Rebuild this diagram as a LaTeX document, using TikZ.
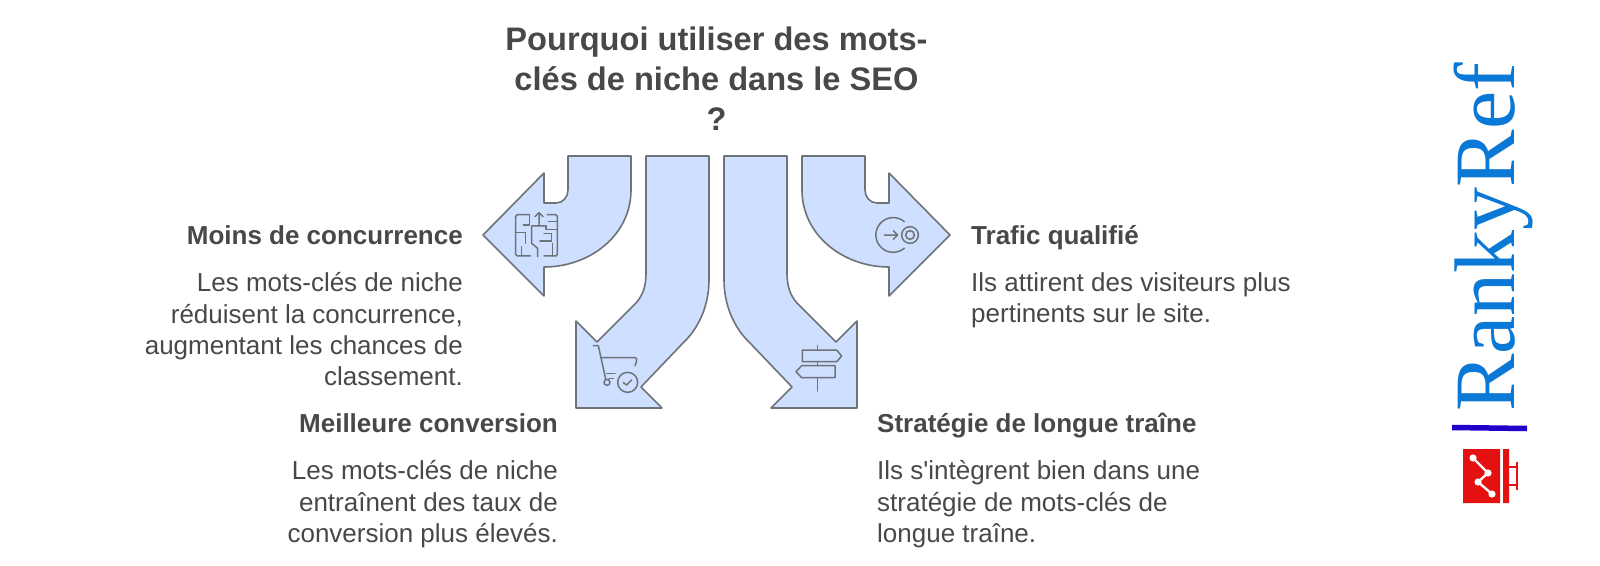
\documentclass[tikz,border=0pt]{standalone}
\usepackage{fontspec}
\setmainfont{Liberation Sans}[Ligatures=TeXOff]
\newfontfamily\logofont{Liberation Serif}
\definecolor{arrowfill}{HTML}{CEDFFF}
\definecolor{arrowline}{HTML}{6E7378}
\definecolor{txt}{HTML}{484848}
\definecolor{logoblue}{HTML}{0A78D6}
\definecolor{logobar}{HTML}{2200CC}
\definecolor{logored}{HTML}{E51010}
\tikzset{
  x=1pt,y=-1pt,
  arrowshape/.style={draw=arrowline,fill=arrowfill,line width=1.6pt,line join=round},
  iconline/.style={draw=arrowline,line width=1.5pt,line cap=round,line join=round},
  headtext/.style={font=\fontsize{32.6}{40}\selectfont\bfseries,text=txt,align=center,inner sep=0pt},
  titletext/.style={font=\fontsize{26}{31}\selectfont\bfseries,text=txt,inner sep=0pt},
  bodytext/.style={font=\fontsize{26}{31.3}\selectfont,text=txt,inner sep=0pt},
}
\begin{document}
\begin{tikzpicture}
\useasboundingbox (0,0) rectangle (1600,565);
\fill[white] (0,0) rectangle (1600,565);
% left and down-left arrows, mirrored for the right side
\foreach \sc/\sh in {1/0,-1/1433}{
\begin{scope}[shift={(\sh,0)},xscale=\sc]
\path[arrowshape] (568,156) -- (631,156) -- (631,190)
  .. controls (631,235) and (590,267) .. (544,267)
  -- (544,296) -- (483,235) -- (544,173) -- (544,203) -- (556,203)
  .. controls (563,203) and (568,197) .. (568,190) -- cycle;
\path[arrowshape] (646,156) -- (709,156) -- (709,280)
  .. controls (709,305) and (699,328) .. (683,343)
  -- (641,387) -- (662,408) -- (576,408) -- (576,321) -- (597,342) -- (636,303)
  .. controls (643,295) and (646,286) .. (646,273) -- cycle;
\end{scope}}
% maze icon
\begin{scope}[iconline,shift={(470,140)},scale=0.3333]
\draw (178,224) -- (142,224) -- (137,229) -- (137,343) -- (142,348) -- (182,348);
\draw (178,224) -- (178,255) -- (160,255);
\draw (137,278) -- (167,278) -- (167,310);
\draw (155,320) -- (155,348);
\draw (207,258) -- (207,218) (195,230) -- (207,218) -- (219,230);
\draw (228,258) -- (185,258) -- (185,310) -- (203,325) -- (203,350);
\draw (232,224) -- (257,224) -- (262,229) -- (262,343) -- (258,348) -- (222,348);
\draw (235,245) -- (262,245);
\draw (228,258) -- (228,268) -- (262,268);
\draw (210,303) -- (245,303) -- (245,280) -- (222,280);
\draw (248,310) -- (248,348);
\end{scope}
% cart icon
\begin{scope}[iconline,shift={(585,335)},scale=0.3333]
\draw (25,32) -- (40,32) -- (62,132);
\draw (50,68) -- (148,68) .. controls (156,68) and (158,72) .. (150,92);
\draw (65,115) -- (90,115) (72,130) -- (85,130);
\draw (66,142) circle[radius=9];
\draw (128,142) circle[radius=30];
\draw (115,143) -- (125,150) -- (140,135);
\end{scope}
% signpost icon
\begin{scope}[iconline,shift={(780,335)},scale=0.3333]
\draw (113,32) -- (113,45) (113,80) -- (113,92) (113,128) -- (113,168);
\draw (67,45) -- (170,45) -- (185,63) -- (170,80) -- (67,80) -- cycle;
\draw (165,92) -- (65,92) -- (48,110) -- (65,128) -- (165,128) -- cycle;
\end{scope}
% target icon
\begin{scope}[iconline,shift={(865,210)},scale=0.3333]
\draw (118,35) arc[start angle=-50,end angle=-310,radius=52];
\draw (58,75) -- (98,75) (85,62) -- (98,75) -- (85,88);
\draw (135,75) circle[radius=25];
\draw (135,75) circle[radius=13];
\end{scope}
% texts
\node[headtext] (head) at (716.5,79) {Pourquoi utiliser des mots-\\clés de niche dans le SEO\\?};
\node[titletext,anchor=base east] (t1) at (463,244) {Moins de concurrence};
\node[bodytext,align=right,anchor=north east] (b1) at (463,272.5) {Les mots-clés de niche\\réduisent la concurrence,\\augmentant les chances de\\classement.};
\node[titletext,anchor=base east] (t2) at (558,432) {Meilleure conversion};
\node[bodytext,align=right,anchor=north east] (b2) at (558,460.5) {Les mots-clés de niche\\entraînent des taux de\\conversion plus élevés.};
\node[titletext,anchor=base west] (t3) at (971,244) {Trafic qualifié};
\node[bodytext,align=left,anchor=north west] (b3) at (971,272.5) {Ils attirent des visiteurs plus\\pertinents sur le site.};
\node[titletext,anchor=base west] (t4) at (877,432) {Stratégie de longue traîne};
\node[bodytext,align=left,anchor=north west] (b4) at (877,460.5) {Ils s'intègrent bien dans une\\stratégie de mots-clés de\\longue traîne.};
% logo
\node[rotate=90,anchor=base west,inner sep=0pt,text=logoblue,font=\logofont\fontsize{86}{86}\selectfont] (logo) at (1514,412) {RankyRef};
\coordinate (barA) at (1452,427.5);
\coordinate (barB) at (1527,428.5);
\draw[logobar,line width=5.5pt] (barA) -- (barB);
\fill[logored] (1463,449) rectangle (1500,503) (1503,449) rectangle (1509,503);
\draw[logored,line width=2pt] (1509,467) -- (1517,467) (1509,485) -- (1517,485) (1517,462) -- (1517,490);
\draw[white,line width=2.4pt] (1473,458) -- (1488,473) -- (1478,482) -- (1492,494);
\fill[white] (1473,458) circle[radius=3.6] (1488,473) circle[radius=3.6] (1478,482) circle[radius=3.6] (1492,494) circle[radius=3.6];
\end{tikzpicture}
\end{document}
